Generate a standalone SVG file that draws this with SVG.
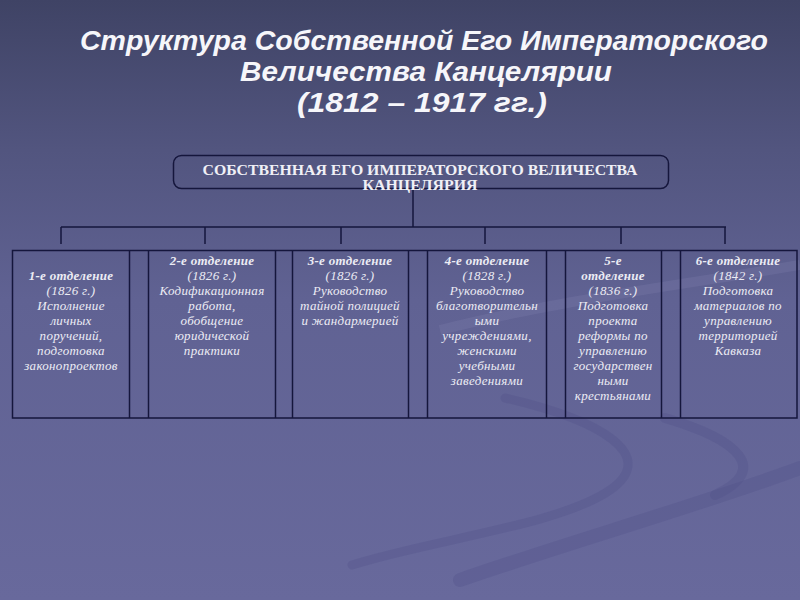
<svg xmlns="http://www.w3.org/2000/svg" width="800" height="600" viewBox="0 0 800 600">
<defs>
<linearGradient id="bg" x1="0" y1="0" x2="0" y2="1">
<stop offset="0" stop-color="#3f4365"/>
<stop offset="0.25" stop-color="#52557f"/>
<stop offset="0.5" stop-color="#606293"/>
<stop offset="1" stop-color="#68699c"/>
</linearGradient>
<style>
.title{font-family:"Liberation Sans",Arial,sans-serif;font-weight:bold;font-style:italic;font-size:27px;fill:#f6f6fa;text-anchor:middle}
.head{font-family:"Liberation Serif","DejaVu Serif",serif;font-weight:bold;font-size:14px;fill:#f0f0f6;text-anchor:middle}
.c{font-family:"Liberation Serif","DejaVu Serif",serif;font-style:italic;font-size:13px;fill:#ececf4;text-anchor:middle;letter-spacing:0.3px}
.b{font-weight:bold}
.ln{stroke:#15163c;stroke-width:1.5;fill:none}
.sw{fill:none;stroke:#4f5088;stroke-linecap:round;opacity:0.3}
</style>
</defs>
<rect width="800" height="600" fill="url(#bg)"/>
<g id="decor">
<path class="sw" stroke-width="9" d="M505 398 C600 420 660 455 610 490 C560 525 430 540 352 565"/>
<path class="sw" stroke-width="10" d="M665 418 C740 440 770 470 715 495"/>
<path class="sw" stroke-width="14" d="M800 468 C700 505 560 545 460 580"/>
<path fill="none" stroke="#8a8bb8" stroke-width="10" opacity="0.2" d="M440 330 C560 300 680 285 800 265"/>
</g>
<g id="title">
<text class="title" x="424" y="50" textLength="688" lengthAdjust="spacingAndGlyphs">Структура Собственной Его Императорского</text>
<text class="title" x="426" y="81" textLength="372" lengthAdjust="spacingAndGlyphs">Величества Канцелярии</text>
<text class="title" x="422" y="112" textLength="250" lengthAdjust="spacingAndGlyphs">(1812 – 1917 гг.)</text>
</g>
<g id="connectors">
<line class="ln" x1="413" y1="188" x2="413" y2="227"/>
<line class="ln" x1="61" y1="227" x2="726" y2="227"/>
<line class="ln" x1="61" y1="227" x2="61" y2="244"/>
<line class="ln" x1="205" y1="227" x2="205" y2="244"/>
<line class="ln" x1="341" y1="227" x2="341" y2="244"/>
<line class="ln" x1="485" y1="227" x2="485" y2="244"/>
<line class="ln" x1="621" y1="227" x2="621" y2="244"/>
<line class="ln" x1="725" y1="227" x2="725" y2="244"/>
</g>
<g id="root">
<rect class="ln" x="173.5" y="155.5" width="495" height="33" rx="8"/>
<text class="head" x="420" y="175" textLength="435" lengthAdjust="spacingAndGlyphs">СОБСТВЕННАЯ ЕГО ИМПЕРАТОРСКОГО ВЕЛИЧЕСТВА</text>
<text class="head" x="420" y="190" textLength="115" lengthAdjust="spacingAndGlyphs">КАНЦЕЛЯРИЯ</text>
</g>
<g id="table">
<rect class="ln" x="12.5" y="250.5" width="784.5" height="167.5"/>
<line class="ln" x1="129.5" y1="250.5" x2="129.5" y2="418"/>
<line class="ln" x1="148.5" y1="250.5" x2="148.5" y2="418"/>
<line class="ln" x1="275.5" y1="250.5" x2="275.5" y2="418"/>
<line class="ln" x1="292.5" y1="250.5" x2="292.5" y2="418"/>
<line class="ln" x1="408.5" y1="250.5" x2="408.5" y2="418"/>
<line class="ln" x1="427.5" y1="250.5" x2="427.5" y2="418"/>
<line class="ln" x1="546.5" y1="250.5" x2="546.5" y2="418"/>
<line class="ln" x1="565.5" y1="250.5" x2="565.5" y2="418"/>
<line class="ln" x1="661.5" y1="250.5" x2="661.5" y2="418"/>
<line class="ln" x1="680.5" y1="250.5" x2="680.5" y2="418"/>
</g>
<g id="dept1">
<text class="c b" x="71" y="280">1-е отделение</text>
<text class="c" x="71" y="295">(1826 г.)</text>
<text class="c" x="71" y="310">Исполнение</text>
<text class="c" x="71" y="325">личных</text>
<text class="c" x="71" y="340">поручений,</text>
<text class="c" x="71" y="355">подготовка</text>
<text class="c" x="71" y="370">законопроектов</text>
</g>
<g id="dept2">
<text class="c b" x="212" y="265">2-е отделение</text>
<text class="c" x="212" y="280">(1826 г.)</text>
<text class="c" x="212" y="295">Кодификационная</text>
<text class="c" x="212" y="310">работа,</text>
<text class="c" x="212" y="325">обобщение</text>
<text class="c" x="212" y="340">юридической</text>
<text class="c" x="212" y="355">практики</text>
</g>
<g id="dept3">
<text class="c b" x="350" y="265">3-е отделение</text>
<text class="c" x="350" y="280">(1826 г.)</text>
<text class="c" x="350" y="295">Руководство</text>
<text class="c" x="350" y="310">тайной полицией</text>
<text class="c" x="350" y="325">и жандармерией</text>
</g>
<g id="dept4">
<text class="c b" x="487" y="265">4-е отделение</text>
<text class="c" x="487" y="280">(1828 г.)</text>
<text class="c" x="487" y="295">Руководство</text>
<text class="c" x="487" y="310">благотворительн</text>
<text class="c" x="487" y="325">ыми</text>
<text class="c" x="487" y="340">учреждениями,</text>
<text class="c" x="487" y="355">женскими</text>
<text class="c" x="487" y="370">учебными</text>
<text class="c" x="487" y="385">заведениями</text>
</g>
<g id="dept5">
<text class="c b" x="613" y="265">5-е</text>
<text class="c b" x="613" y="280">отделение</text>
<text class="c" x="613" y="295">(1836 г.)</text>
<text class="c" x="613" y="310">Подготовка</text>
<text class="c" x="613" y="325">проекта</text>
<text class="c" x="613" y="340">реформы по</text>
<text class="c" x="613" y="355">управлению</text>
<text class="c" x="613" y="370">государствен</text>
<text class="c" x="613" y="385">ными</text>
<text class="c" x="613" y="400">крестьянами</text>
</g>
<g id="dept6">
<text class="c b" x="738" y="265">6-е отделение</text>
<text class="c" x="738" y="280">(1842 г.)</text>
<text class="c" x="738" y="295">Подготовка</text>
<text class="c" x="738" y="310">материалов по</text>
<text class="c" x="738" y="325">управлению</text>
<text class="c" x="738" y="340">территорией</text>
<text class="c" x="738" y="355">Кавказа</text>
</g>
</svg>
